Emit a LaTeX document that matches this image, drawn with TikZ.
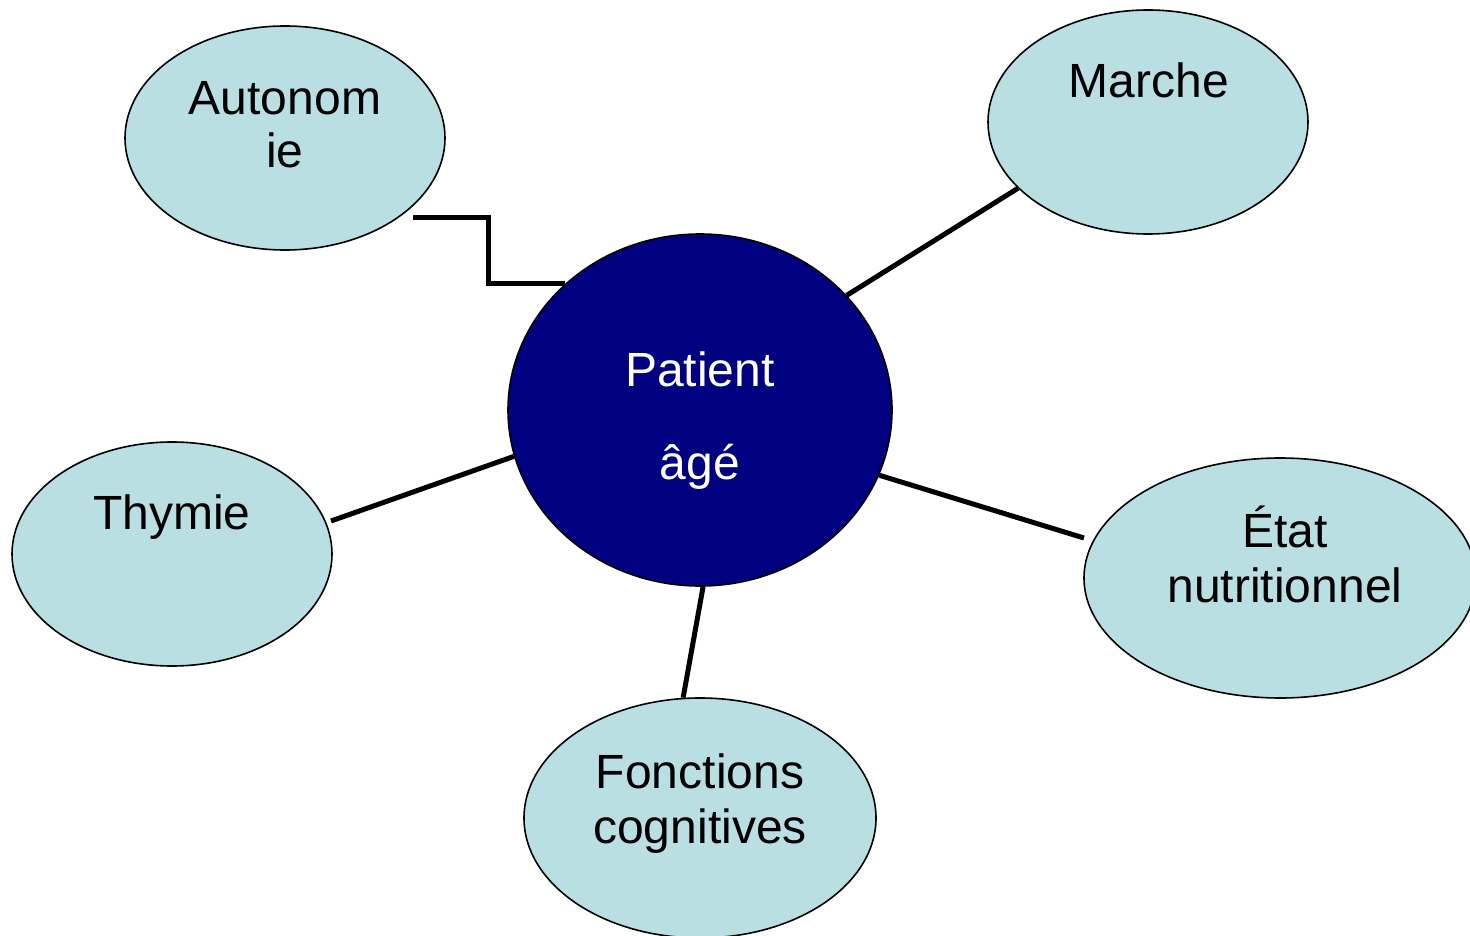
\documentclass[tikz,border=0pt]{standalone}
\usepackage{fontspec}
\setmainfont{Liberation Sans}
\usetikzlibrary{shapes.geometric,calc}
\definecolor{bubble}{HTML}{B9DFE3}
\definecolor{navy}{HTML}{000080}
\tikzset{
  bub/.style={ellipse, draw=black, line width=1.6pt, fill=bubble, inner sep=0pt},
  core/.style={ellipse, draw=black, line width=1.6pt, fill=navy, inner sep=0pt},
  lbl/.style={anchor=base, inner sep=0pt, font=\fontsize{48}{57}\selectfont},
  link/.style={line width=5pt, draw=black},
}
\begin{document}
\begin{tikzpicture}[x=1pt, y=-1pt]
\useasboundingbox (0,0) rectangle (1470,936);
\node[bub, minimum width=320pt, minimum height=224pt] (auto) at (285,138) {};
\node[bub, minimum width=320pt, minimum height=224pt] (marche) at (1148,122) {};
\node[bub, minimum width=320pt, minimum height=224pt] (thym) at (172,554) {};
\node[bub, minimum width=392pt, minimum height=240pt] (etat) at (1280,578) {};
\node[bub, minimum width=352pt, minimum height=240pt] (fonc) at (700,818) {};
\node[core, minimum width=384pt, minimum height=352pt] (pat) at (700,410) {};

\node[lbl] (tauto1) at (285,115) {Autonom};
\node[lbl] (tauto2) at (285,168) {ie};
\node[lbl] (tmarche) at (1149,98) {Marche};
\node[lbl] (tthym) at (172,529) {Thymie};
\node[lbl] (tetat1) at (1285,547) {État};
\node[lbl] (tetat2) at (1285,602) {nutritionnel};
\node[lbl] (tfonc1) at (700,788) {Fonctions};
\node[lbl] (tfonc2) at (700,843) {cognitives};
\node[lbl, text=white] (tpat1) at (700,386) {Patient};
\node[lbl, text=white] (tpat2) at (700,479) {âgé};

\coordinate (autoend) at ($(auto)+(128,80)$);
\coordinate (thymend) at ($(thym)+(159,-33)$);
\coordinate (etatend) at ($(etat)+(-196,-40)$);

\draw[link] (autoend) -| ($(autoend)!0.5!(pat.137)$) |- (pat.137);
\draw[link] (marche.207) -- (pat.38);
\draw[link] (thymend) -- (pat.194.5);
\draw[link] (etatend) -- (pat.-20);
\draw[link] (fonc.98) -- (pat.-89);
\end{tikzpicture}
\end{document}
